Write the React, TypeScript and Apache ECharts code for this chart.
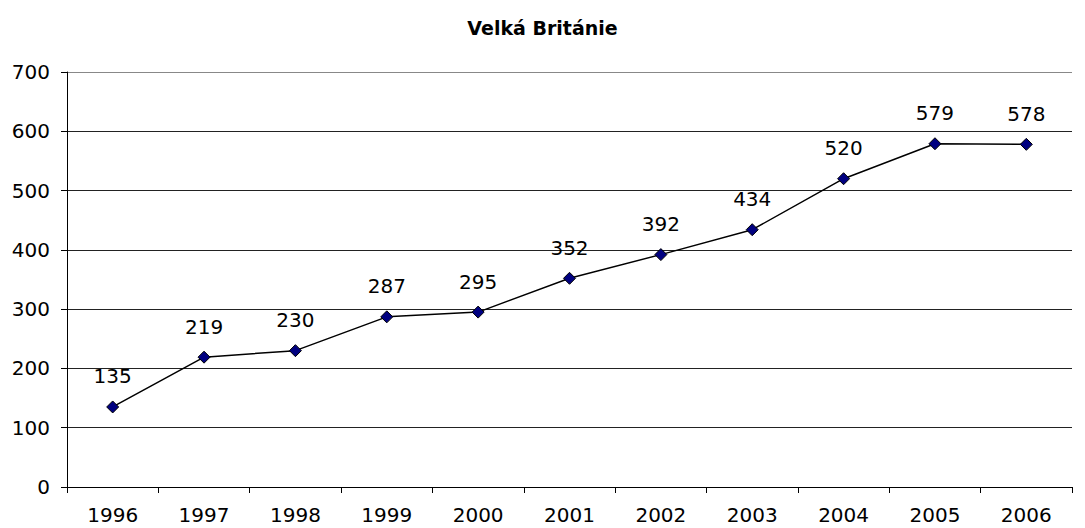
import React, { useEffect, useRef } from "react";
import * as echarts from "echarts";

const years = ["1996", "1997", "1998", "1999", "2000", "2001", "2002", "2003", "2004", "2005", "2006"];
const values = [135, 219, 230, 287, 295, 352, 392, 434, 520, 579, 578];
const titleText = "Velká Británie";

export default function App() {
  const ref = useRef<HTMLDivElement>(null);
  useEffect(() => {
    const chart = echarts.init(ref.current!, null, { renderer: "svg" });
    const font = "DejaVu Sans, Verdana, sans-serif";
    chart.setOption({
      animation: false,
      backgroundColor: "#ffffff",
      title: {
        text: titleText,
        left: "center",
        top: 13,
        textStyle: { fontFamily: font, fontSize: 19, fontWeight: "bold", color: "#000" },
      },
      grid: { left: 67, right: 13, top: 72, bottom: 41 },
      xAxis: {
        type: "category",
        data: years,
        boundaryGap: true,
        axisLine: { lineStyle: { color: "#000", width: 1 } },
        axisTick: { show: true, length: 6, lineStyle: { color: "#000" } },
        axisLabel: { fontFamily: font, fontSize: 20, color: "#000", margin: 18 },
      },
      yAxis: {
        type: "value",
        min: 0,
        max: 700,
        interval: 100,
        axisLine: { show: true, lineStyle: { color: "#000", width: 1 } },
        axisTick: { show: true, length: 6, lineStyle: { color: "#000" } },
        axisLabel: { fontFamily: font, fontSize: 20, color: "#000", margin: 17 },
        splitLine: {
          show: true,
          lineStyle: {
            color: ["#222", "#222", "#222", "#222", "#222", "#222", "#222", "#888"],
            width: 1,
          },
        },
      },
      series: [
        {
          type: "line",
          data: values,
          symbol: "diamond",
          symbolSize: 12,
          itemStyle: { color: "#000080", borderColor: "#000", borderWidth: 1 },
          lineStyle: { color: "#000", width: 1.5 },
          label: {
            show: true,
            position: "top",
            distance: 14,
            fontFamily: font,
            fontSize: 20,
            color: "#000",
          },
        },
      ],
    });
    return () => chart.dispose();
  }, []);
  return <div ref={ref} style={{ width: 1085, height: 528, position: "absolute", left: 0, top: 0 }} />;
}
